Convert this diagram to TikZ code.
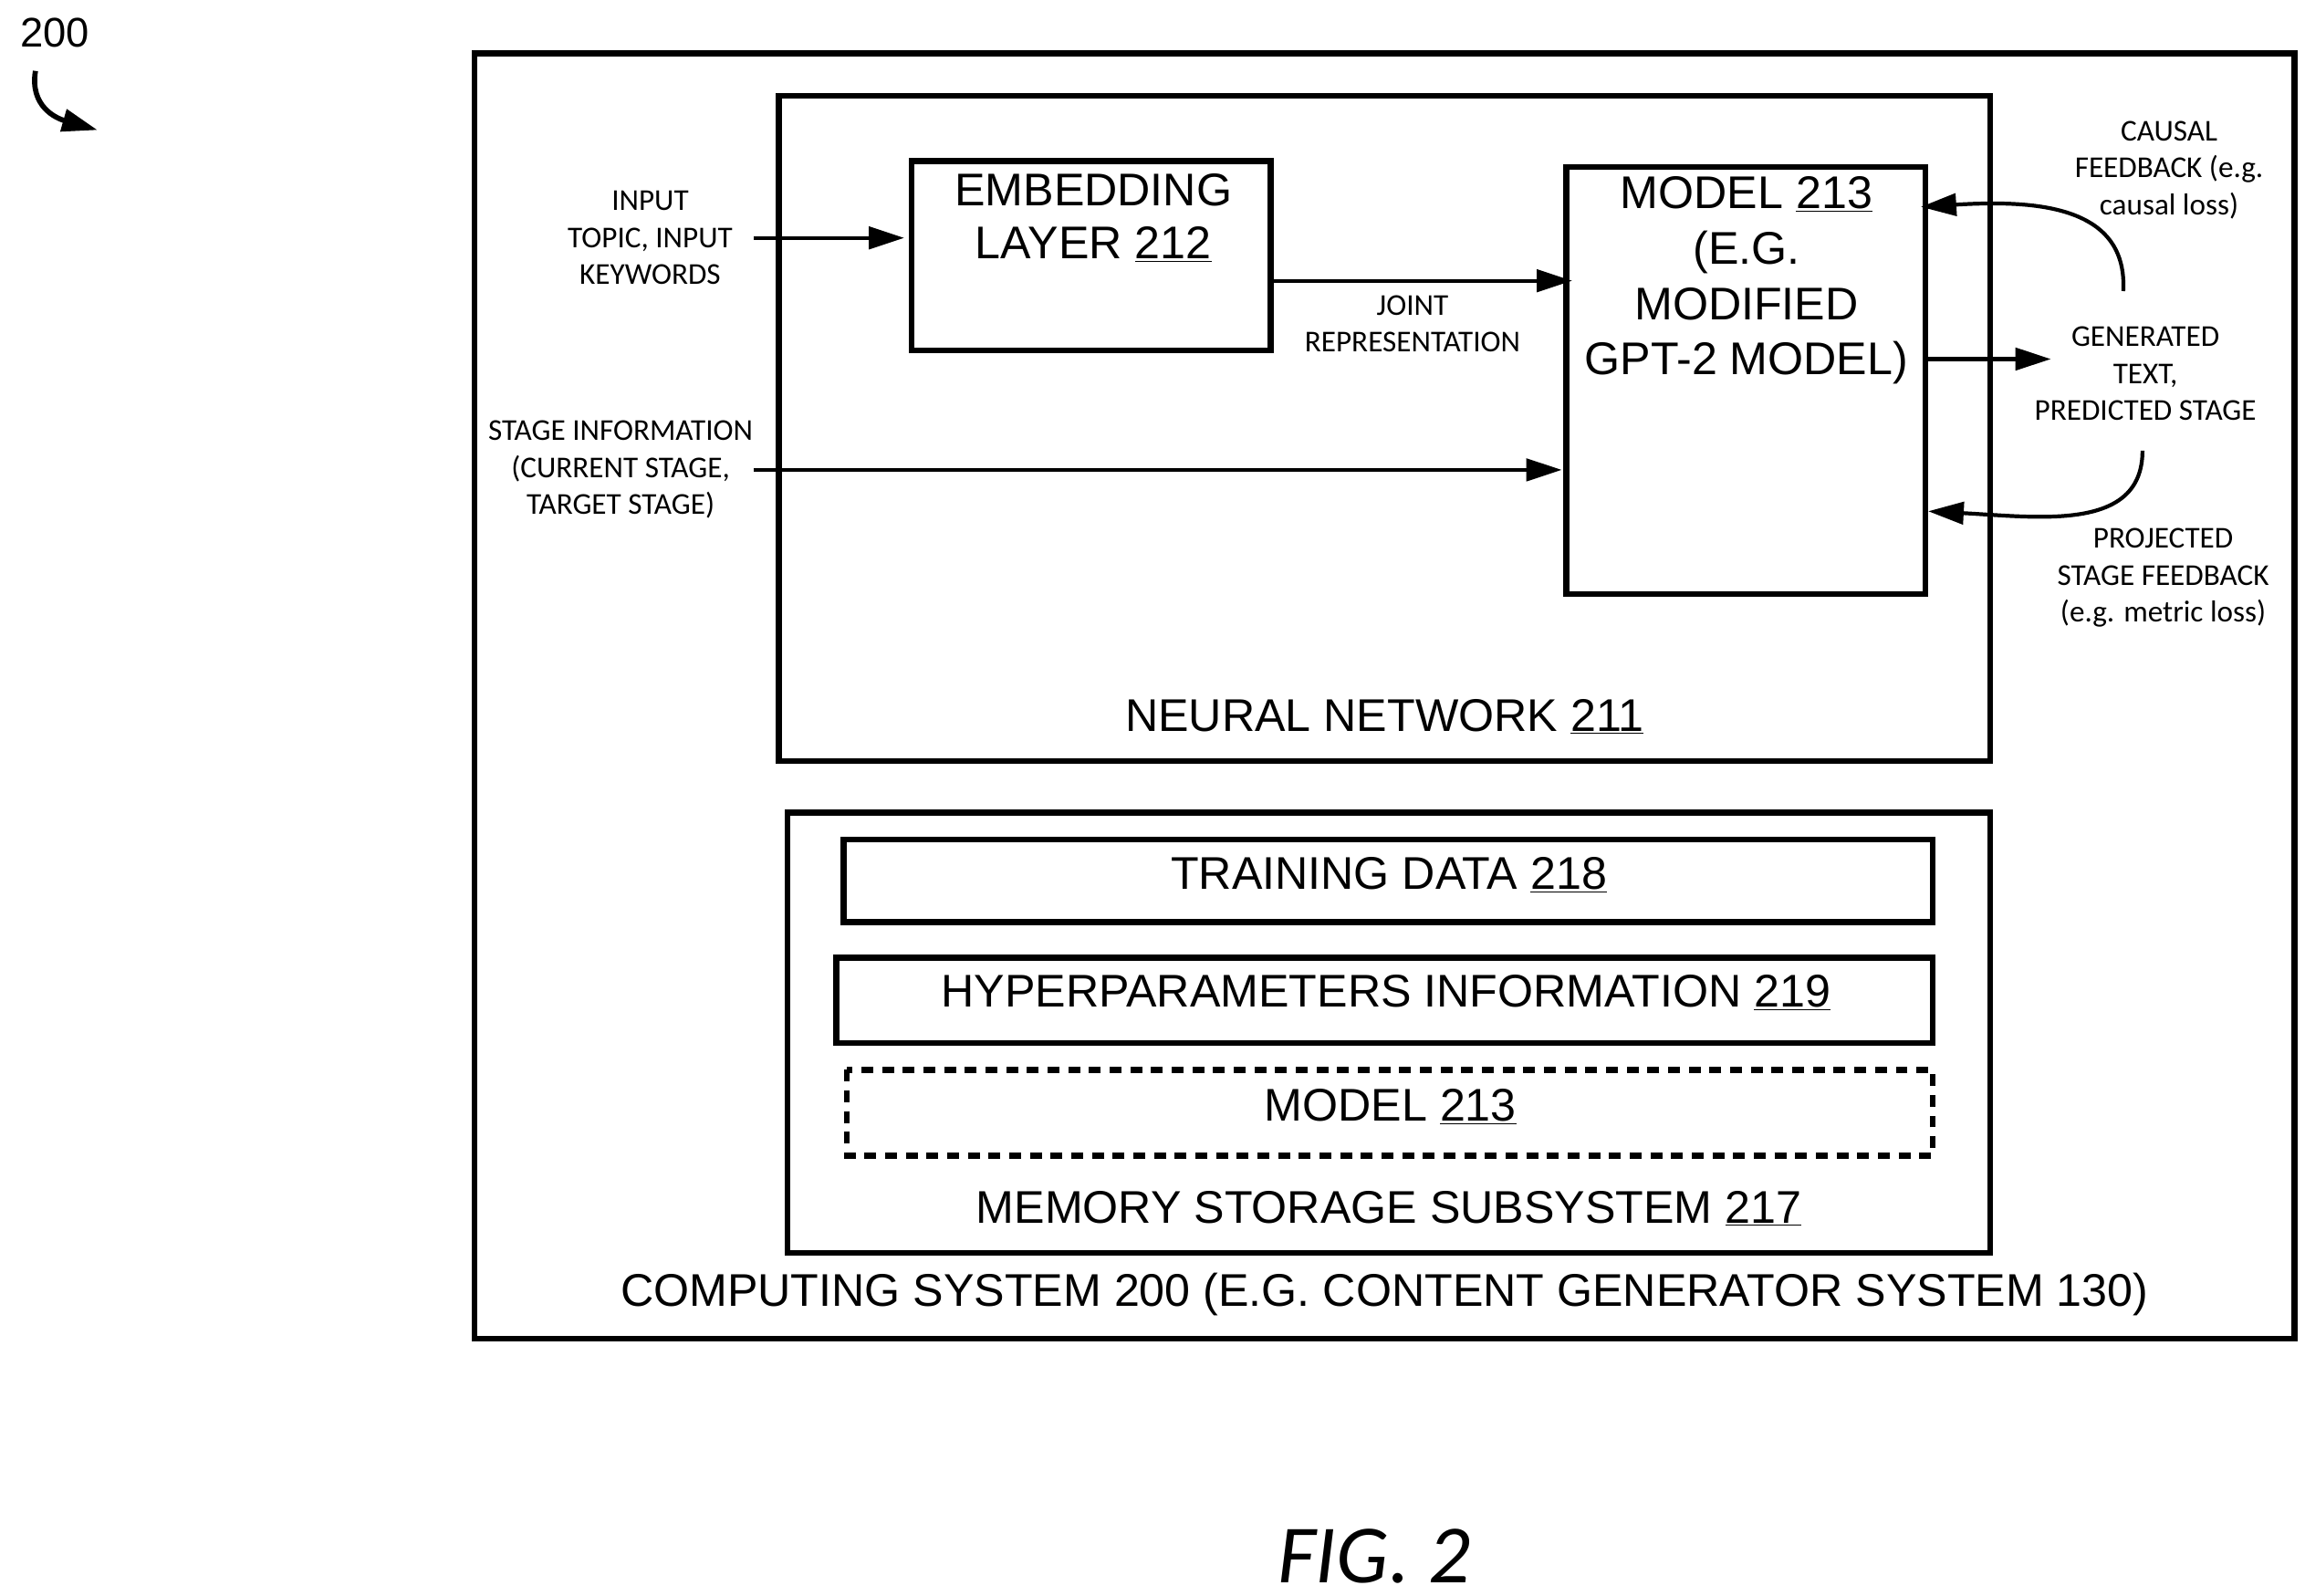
\documentclass[tikz,border=0pt]{standalone}
\usepackage{fontspec}
\setmainfont{Liberation Sans}
\newfontfamily\calfont{Carlito}
\usetikzlibrary{arrows.meta}
\begin{document}
\begin{tikzpicture}[x=1pt,y=-1pt,
 box/.style={draw,line width=4pt},
 big/.style={font=\fontsize{31}{36}\selectfont,align=center},
 small/.style={font=\calfont\fontsize{20.5}{25}\selectfont,align=center},
 arr/.style={-{Triangle[length=24pt,width=15pt]},line width=2.6pt}]
\useasboundingbox (0,0) rectangle (1560,1080);
\node[font=\fontsize{28}{30}\selectfont] (n200) at (37,22) {200};
\coordinate (a1) at (24,48); \coordinate (a2) at (66,88);
\draw[arr,line width=3.5pt] (a1) .. controls (20,72) and (38,80) .. (a2);
\draw[box] (321,36) rectangle (1553,906);
\draw[box] (527,65) rectangle (1347,515);
\node[box,minimum width=243pt,minimum height=128pt] (emb) at (738.5,173) {};
\node[big,anchor=north] at (740,114) {EMBEDDING\\LAYER \underline{212}};
\node[box,minimum width=243pt,minimum height=289pt] (mod) at (1181.5,257.5) {};
\node[big,anchor=north,font=\fontsize{31}{37.5}\selectfont] at (1182,116) {MODEL \underline{213}\\(E.G.\\MODIFIED\\GPT-2 MODEL)};
\node[small] (in) at (440,161) {INPUT\\TOPIC, INPUT\\KEYWORDS};
\draw[arr] (510,161) -- (612,161);
\draw[arr] (860,190) -- (1064,190);
\node[small] (jr) at (956,219) {JOINT\\REPRESENTATION};
\node[small] (st) at (420,318) {STAGE INFORMATION\\(CURRENT STAGE,\\TARGET STAGE)};
\draw[arr] (510,318) -- (1057,318);
\draw[arr] (1303,243) -- (1388,243);
\node[small] (gt) at (1452,253) {GENERATED\\TEXT,\\PREDICTED STAGE};
\node[small] (cf) at (1468,115) {CAUSAL\\FEEDBACK (e.g.\\causal loss)};
\draw[arr] (1437,197) .. controls (1440,140) and (1380,135) .. (1300,140);
\node[small] (pf) at (1464,391) {PROJECTED\\STAGE FEEDBACK\\(e.g. metric loss)};
\draw[arr] (1450,305) .. controls (1450,360) and (1380,350) .. (1305,346);
\node[big] at (937,485) {NEURAL NETWORK \underline{211}};
\draw[box] (533,550) rectangle (1347,848);
\draw[box] (571,568) rectangle (1308,624);
\node[big] at (940,592) {TRAINING DATA \underline{218}};
\draw[box] (566,648) rectangle (1308,706);
\node[big] at (938,672) {HYPERPARAMETERS INFORMATION \underline{219}};
\draw[line width=4pt,dash pattern=on 8pt off 6pt] (573,724) rectangle (1308,782);
\node[big] at (941,749) {MODEL \underline{213}};
\node[big] at (940,818) {MEMORY STORAGE SUBSYSTEM \underline{217}};
\node[big] at (937,876) {COMPUTING SYSTEM 200 (E.G. CONTENT GENERATOR SYSTEM 130)};
\node[font=\calfont\itshape\fontsize{56}{60}\selectfont] at (930,1053) {FIG. 2};
\end{tikzpicture}
\end{document}
